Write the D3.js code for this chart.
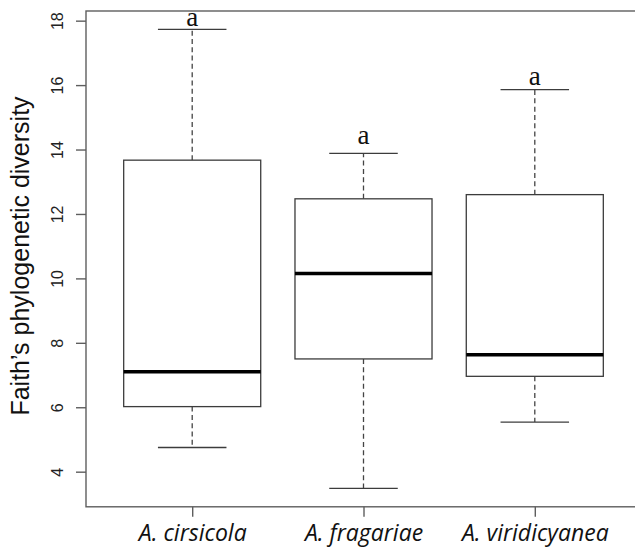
<!DOCTYPE html>
<html>
<head>
<meta charset="utf-8">
<script src="https://cdn.jsdelivr.net/npm/d3@7"></script>
<style>
  html, body { margin: 0; padding: 0; background: #fff; }
  svg { display: block; }
</style>
</head>
<body>
<svg id="chart" width="635" height="547"></svg>
<script>
// boxplot stats
const species   = ['A. cirsicola', 'A. fragariae', 'A. viridicyanea'];
const whiskLow  = [4.75, 3.48, 5.54];
const q1        = [6.02, 7.50, 6.96];
const medians   = [7.10, 10.15, 7.63];
const q3        = [13.67, 12.47, 12.60];
const whiskHigh = [17.73, 13.88, 15.86];
const letters   = ['a', 'a', 'a'];
const letterAt  = [17.84, 14.17, 16.0];
const yTicks    = [4, 6, 8, 10, 12, 14, 16, 18];
const yTitle    = 'Faith\u2019s phylogenetic diversity';

const boxes = species.map((name, i) => ({
  name  : name,
  pos   : i + 1,
  lo    : whiskLow[i],
  q1    : q1[i],
  med   : medians[i],
  q3    : q3[i],
  hi    : whiskHigh[i],
  letter: letters[i],
  lab   : letterAt[i]
}));

const svg = d3.select('#chart');

// R-style limits: 4% padding on each side
const lo = d3.min(whiskLow), hi = d3.max(whiskHigh);
const pad = (hi - lo) * 0.04;
const y = d3.scaleLinear().domain([lo - pad, hi + pad]).range([506.8, 11]);
const x = d3.scaleLinear().domain([0.38, 3.62]).range([86, 641]);

const frameCol = '#5e5e5e';
const lineCol = '#3c3c3c';

// frame
svg.append('rect')
  .attr('x', x(0.38)).attr('y', y(hi + pad))
  .attr('width', x(3.62) - x(0.38)).attr('height', y(lo - pad) - y(hi + pad))
  .attr('fill', 'none').attr('stroke', frameCol).attr('stroke-width', 1.4);

// left axis
const leftAxis = svg.append('g')
  .attr('transform', `translate(${x(0.38)},0)`)
  .call(d3.axisLeft(y).tickValues(yTicks).tickSize(10).tickPadding(0));
leftAxis.select('.domain').remove();
leftAxis.selectAll('.tick line').attr('stroke', frameCol).attr('stroke-width', 1.4);
leftAxis.selectAll('.tick text')
  .attr('x', null).attr('dy', null)
  .attr('transform', 'translate(-22.7,0) rotate(-90)')
  .attr('text-anchor', 'middle')
  .attr('font-family', '"Liberation Sans", Arial, sans-serif')
  .attr('font-size', 16)
  .attr('fill', '#222');

// bottom axis
const bottomAxis = svg.append('g')
  .attr('transform', `translate(0,${y(lo - pad)})`)
  .call(d3.axisBottom(x).tickValues(boxes.map(d => d.pos)).tickSize(10).tickPadding(0)
    .tickFormat((d, i) => species[i]));
bottomAxis.select('.domain').remove();
bottomAxis.selectAll('.tick line').attr('stroke', frameCol).attr('stroke-width', 1.4);
bottomAxis.selectAll('.tick text')
  .attr('y', 34.5).attr('dy', null)
  .attr('font-family', '"Open Sans", sans-serif')
  .attr('font-style', 'italic')
  .attr('font-size', 23)
  .attr('fill', '#111');

// y title
svg.append('text')
  .attr('transform', `translate(29.3,256) rotate(-90)`)
  .attr('text-anchor', 'middle')
  .attr('font-family', '"Liberation Sans", Arial, sans-serif')
  .attr('font-size', 25)
  .attr('fill', '#111')
  .text(yTitle);

// boxes
const g = svg.selectAll('.box')
  .data(boxes)
  .enter()
  .append('g')
  .attr('class', 'box');

// whiskers
g.append('line')
  .attr('x1', d => x(d.pos)).attr('x2', d => x(d.pos))
  .attr('y1', d => y(d.q3)).attr('y2', d => y(d.hi))
  .attr('stroke', '#444').attr('stroke-width', 1.3).attr('stroke-dasharray', '5,3.3');
g.append('line')
  .attr('x1', d => x(d.pos)).attr('x2', d => x(d.pos))
  .attr('y1', d => y(d.q1)).attr('y2', d => y(d.lo))
  .attr('stroke', '#444').attr('stroke-width', 1.3).attr('stroke-dasharray', '5,3.3');

// caps
g.append('line')
  .attr('x1', d => x(d.pos - 0.2)).attr('x2', d => x(d.pos + 0.2))
  .attr('y1', d => y(d.hi)).attr('y2', d => y(d.hi))
  .attr('stroke', lineCol).attr('stroke-width', 1.3);
g.append('line')
  .attr('x1', d => x(d.pos - 0.2)).attr('x2', d => x(d.pos + 0.2))
  .attr('y1', d => y(d.lo)).attr('y2', d => y(d.lo))
  .attr('stroke', lineCol).attr('stroke-width', 1.3);

// box body
g.append('rect')
  .attr('x', d => x(d.pos - 0.4))
  .attr('y', d => y(d.q3))
  .attr('width', d => x(d.pos + 0.4) - x(d.pos - 0.4))
  .attr('height', d => y(d.q1) - y(d.q3))
  .attr('fill', '#fff').attr('stroke', lineCol).attr('stroke-width', 1.3);

// median
g.append('line')
  .attr('x1', d => x(d.pos - 0.4)).attr('x2', d => x(d.pos + 0.4))
  .attr('y1', d => y(d.med)).attr('y2', d => y(d.med))
  .attr('stroke', '#000').attr('stroke-width', 3.4);

// significance letters
g.append('text')
  .attr('x', d => x(d.pos))
  .attr('y', d => y(d.lab))
  .attr('text-anchor', 'middle')
  .attr('font-family', '"Liberation Serif", "Times New Roman", serif')
  .attr('font-size', 27)
  .attr('fill', '#111')
  .text(d => d.letter);
</script>
</body>
</html>
